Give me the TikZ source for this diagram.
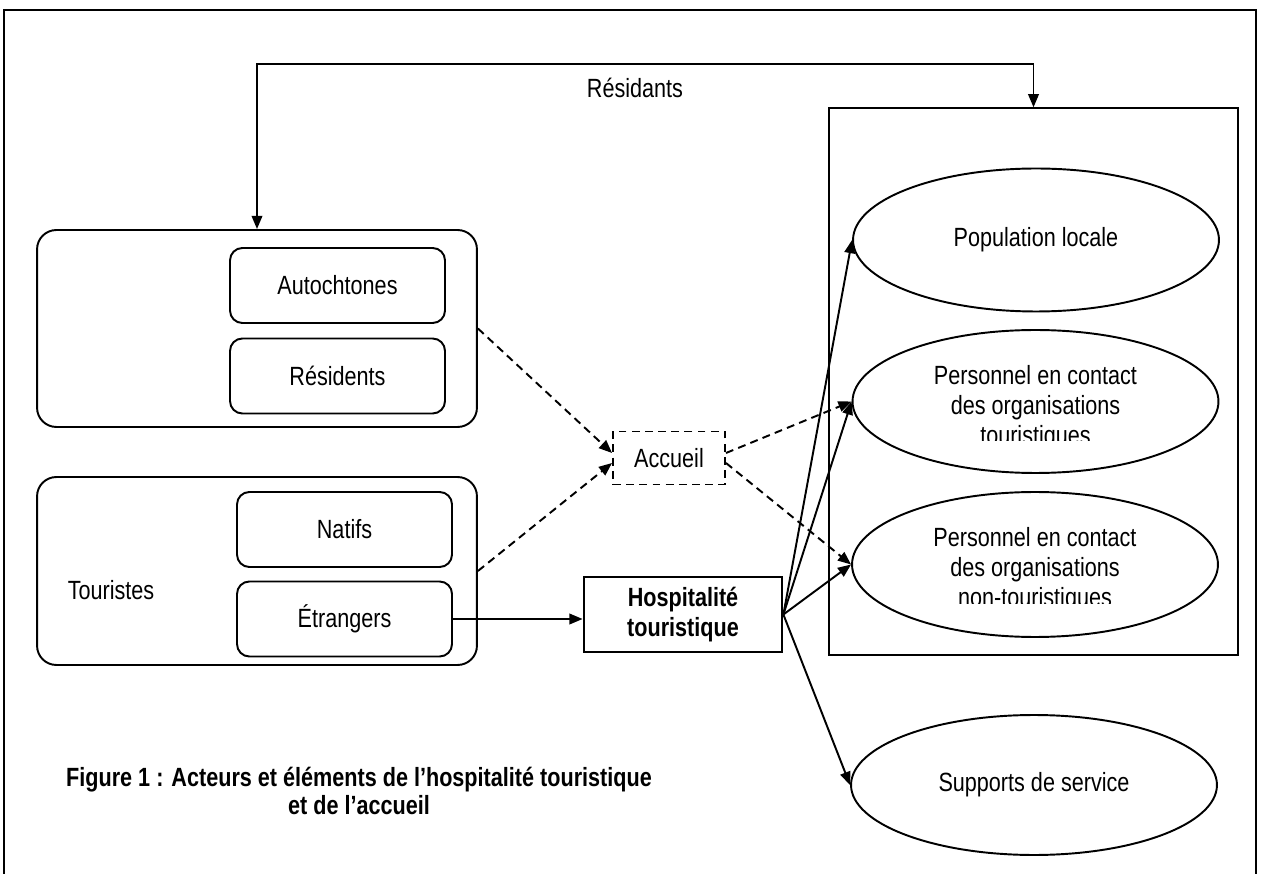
\documentclass[tikz,border=0pt]{standalone}
\usepackage{fontspec}
\setmainfont{Liberation Sans}[FakeStretch=0.82]
\usetikzlibrary{arrows.meta,positioning,shapes.geometric}

\begin{document}
\begin{tikzpicture}[x=0.02cm,y=-0.02cm,line width=1.1pt,font=\fontsize{15}{17}\selectfont,
  >={Triangle[length=7.5pt,width=6pt]},
  grp/.style={draw,rounded corners=11pt,minimum width=8.8cm},
  sub/.style={draw,rounded corners=7pt,minimum width=4.3cm,minimum height=1.5cm},
  actor/.style={draw,ellipse,minimum width=7.32cm,minimum height=2.86cm,inner sep=0pt},
  dsh/.style={dash pattern=on 4.5pt off 3pt}]
\useasboundingbox (0,0) rectangle (1261,874);
% frame
\draw (4,874) -- (4,10) -- (1256,10) -- (1256,874);
% locals
\node[grp,minimum height=3.94cm] (loc) at (257,328.5) {};
\node[sub] (auto) at (337.5,285.5) {Autochtones};
\node[sub] (resi) at (337.5,376) {Résidents};
% tourists
\node[grp,minimum height=3.76cm] (tour) at (257,571) {};
\node[sub] (nat) at (344.5,529.5) {Natifs};
\node[sub] (etr) at (344.5,619) {Étrangers};
\node (tlab) at (111,590) {Touristes};
% middle
\node[draw,dsh,minimum width=2.24cm,minimum height=1.06cm] (acc) at (669,458) {Accueil};
\node[draw,line width=1.6pt,align=center,font=\bfseries\fontsize{15}{17}\selectfont,
  minimum width=3.96cm,minimum height=1.5cm] (hosp) at (683,614.5) {Hospitalité\\touristique};
% hosts
\node[draw,line width=0.8pt,minimum width=8.18cm,minimum height=10.94cm] (host) at (1033.5,381.5) {};
\node[actor] (pop) at (1036,240) {Population locale};
\node[actor] (pt) at (1035.5,401.5) {};
\node[actor,minimum height=2.9cm] (pnt) at (1035,564.5) {};
\node[actor,minimum height=2.8cm] (sup) at (1034,785) {Supports de service};
\begin{scope}
\clip (850,330) rectangle (1220,441);
\node[align=center] (pttxt) at (1035.5,408) {Personnel en contact\\des organisations\\touristiques};
\end{scope}
\begin{scope}
\clip (850,492) rectangle (1220,603);
\node[align=center] (pnttxt) at (1035,570) {Personnel en contact\\des organisations\\non-touristiques};
\end{scope}
% residents loop
\coordinate (bend) at (635,64);
\draw[<->] (loc.north) |- (bend) -| (host.north);
\node (rlab) at (635,88) {Résidants};
% reception
\draw[->,dsh] (loc.east) -- (acc.175);
\draw[->,dsh] (tour.east) -- (acc.185);
\draw[->,dsh] (acc.5) -- (pt.west);
\draw[->,dsh] (acc.-5) -- (pnt.west);
% hospitality
\draw[->] (etr.east) -- (etr.east -| hosp.west);
\draw[->] (hosp.east) -- (pop.west);
\draw[->] (hosp.east) -- (pt.west);
\draw[->] (hosp.east) -- (pnt.west);
\draw[->] (hosp.east) -- (sup.west);
% caption
\node[align=center,font=\bfseries\fontsize{15}{15.5}\selectfont] (cap) at (359,791)
  {Figure 1 : Acteurs et éléments de l’hospitalité touristique\\et de l’accueil};
\end{tikzpicture}
\end{document}
